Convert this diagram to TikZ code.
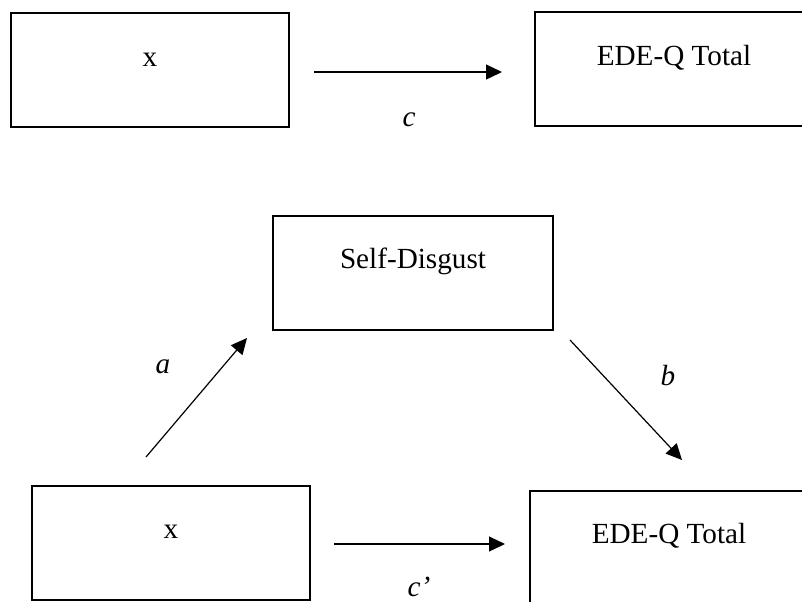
\documentclass[tikz,border=0pt]{standalone}
\usepackage{fontspec}
\setmainfont{Liberation Serif}
\usetikzlibrary{arrows.meta}
\begin{document}
\begin{tikzpicture}[x=.5pt,y=-.5pt,
                    box/.style={draw,line width=1pt,minimum width=139pt,minimum height=57pt,
                                inner sep=0pt,text height=10pt,text depth=14pt},
                    arrow/.style={line width=.6pt,-{Triangle[length=8pt,width=7.5pt]}},
                    every node/.style={font=\fontsize{14.6}{17}\selectfont}]
 \clip (0,0) rectangle (802,601);
 % total effect
 \node[box] (xtop) at (150,70) {x};
 \node[box] (edetop) at (674,69) {EDE-Q Total};
 \draw[arrow,shorten <=12pt,shorten >=16pt] ([yshift=-1pt]xtop.east) -- ([yshift=-1pt]xtop.east -| edetop.west);
 \node (c) at (409,120) {\textit{c}};
 % mediation
 \node[box,minimum width=140pt] (self) at (413,272.5) {Self-Disgust};
 \node[box] (xbot) at (171,542.5) {x};
 \node[box] (edebot) at (669,547.5) {EDE-Q Total};
 \coordinate (a0) at (146,457); \coordinate (a1) at (247,338);
 \coordinate (b0) at (570,340); \coordinate (b1) at (682,460);
 \draw[arrow] (a0) -- (a1);
 \draw[arrow] (b0) -- (b1);
 \draw[arrow,shorten <=11.5pt,shorten >=12pt] ([yshift=-.75pt]xbot.east) -- ([yshift=-.75pt]xbot.east -| edebot.west);
 \node (a) at (163,367) {\textit{a}};
 \node (b) at (668,375) {\textit{b}};
 \node (cp) at (419,587) {\textit{c’}};
\end{tikzpicture}
\end{document}
